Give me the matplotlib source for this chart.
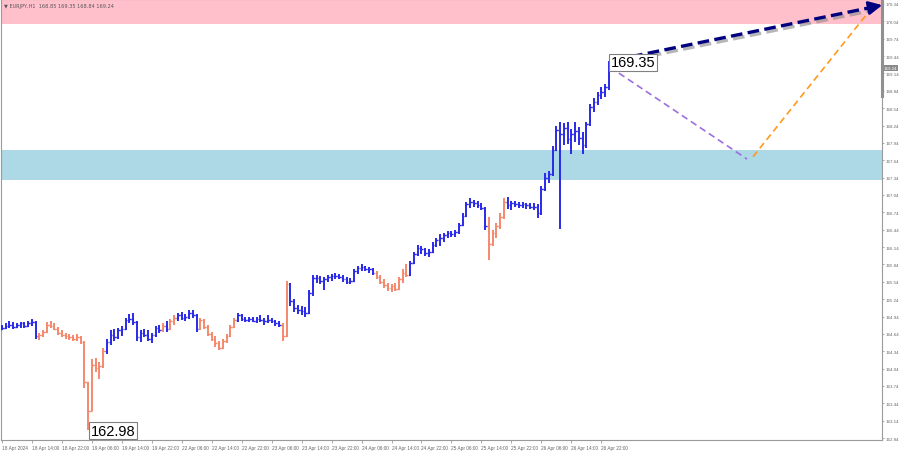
import numpy as np
import matplotlib.pyplot as plt
import matplotlib.patheffects as pe
from matplotlib.transforms import blended_transform_factory

# hourly bars, EURJPY
high = [164.80, 164.82, 164.86, 164.84, 164.83, 164.85, 164.84, 164.87, 164.90, 164.86,
        164.66, 164.70, 164.84, 164.86, 164.82, 164.76, 164.70, 164.66, 164.64, 164.62,
        164.64, 164.60, 164.52, 163.80, 164.20, 164.22, 164.15, 164.40, 164.55, 164.70,
        164.72, 164.74, 164.78, 164.92, 164.98, 165.00, 164.86, 164.70, 164.72, 164.70,
        164.66, 164.78, 164.80, 164.82, 164.86, 164.90, 164.96, 165.00, 165.02, 164.98,
        165.06, 165.06, 164.98, 164.92, 164.90, 164.80, 164.68, 164.60, 164.52, 164.56,
        164.64, 164.80, 164.92, 165.00, 164.98, 164.94, 164.94, 164.94, 164.94, 164.96,
        164.92, 164.96, 164.92, 164.88, 164.86, 164.82, 165.56, 165.52, 165.25, 165.14,
        165.12, 165.10, 165.40, 165.66, 165.66, 165.64, 165.62, 165.66, 165.68, 165.70,
        165.68, 165.66, 165.62, 165.60, 165.76, 165.82, 165.84, 165.82, 165.80, 165.78,
        165.72, 165.66, 165.58, 165.52, 165.50, 165.52, 165.62, 165.76, 165.84, 165.90,
        166.06, 166.18, 166.16, 166.12, 166.10, 166.22, 166.30, 166.36, 166.38, 166.42,
        166.42, 166.44, 166.56, 166.72, 166.92, 166.98, 166.96, 166.94, 166.90, 166.84,
        166.66, 166.44, 166.56, 166.72, 166.98, 167.00, 166.94, 166.94, 166.92, 166.92,
        166.90, 166.90, 166.90, 166.88, 167.20, 167.42, 167.46, 167.88, 168.24, 168.30,
        168.28, 168.30, 168.18, 168.30, 168.22, 168.12, 168.30, 168.62, 168.72, 168.82,
        168.90, 168.96, 169.35]
low = [164.70, 164.72, 164.74, 164.72, 164.74, 164.75, 164.74, 164.76, 164.78, 164.56,
       164.54, 164.58, 164.66, 164.74, 164.70, 164.62, 164.58, 164.56, 164.54, 164.52,
       164.52, 164.46, 163.70, 162.98, 163.30, 163.98, 163.86, 164.05, 164.30, 164.45,
       164.52, 164.55, 164.60, 164.70, 164.82, 164.80, 164.52, 164.50, 164.58, 164.52,
       164.48, 164.58, 164.66, 164.68, 164.68, 164.70, 164.80, 164.86, 164.88, 164.86,
       164.90, 164.92, 164.68, 164.70, 164.72, 164.60, 164.52, 164.42, 164.36, 164.38,
       164.48, 164.58, 164.74, 164.84, 164.86, 164.84, 164.84, 164.84, 164.82, 164.84,
       164.80, 164.82, 164.82, 164.78, 164.76, 164.52, 164.58, 165.12, 165.02, 164.98,
       164.96, 164.94, 164.98, 165.30, 165.52, 165.50, 165.40, 165.54, 165.56, 165.58,
       165.58, 165.54, 165.50, 165.50, 165.54, 165.68, 165.72, 165.72, 165.70, 165.66,
       165.58, 165.50, 165.44, 165.38, 165.36, 165.38, 165.40, 165.52, 165.62, 165.64,
       165.84, 165.98, 166.02, 165.98, 165.96, 166.04, 166.14, 166.16, 166.22, 166.30,
       166.32, 166.32, 166.36, 166.50, 166.66, 166.82, 166.84, 166.82, 166.78, 166.44,
       165.92, 166.16, 166.30, 166.46, 166.62, 166.80, 166.78, 166.84, 166.82, 166.82,
       166.80, 166.80, 166.78, 166.64, 166.70, 167.10, 167.24, 167.36, 167.80, 166.45,
       167.90, 167.92, 167.74, 167.96, 167.90, 167.74, 167.86, 168.24, 168.48, 168.60,
       168.70, 168.74, 168.86]
close = [164.74, 164.78, 164.80, 164.76, 164.80, 164.82, 164.78, 164.83, 164.84, 164.60,
         164.62, 164.68, 164.80, 164.78, 164.72, 164.66, 164.62, 164.60, 164.58, 164.56,
         164.58, 164.50, 163.80, 163.30, 164.10, 164.05, 164.08, 164.35, 164.50, 164.62,
         164.58, 164.70, 164.72, 164.88, 164.90, 164.84, 164.58, 164.66, 164.62, 164.56,
         164.62, 164.74, 164.70, 164.78, 164.72, 164.86, 164.92, 164.96, 164.92, 164.94,
         165.00, 164.96, 164.72, 164.88, 164.76, 164.64, 164.56, 164.48, 164.40, 164.52,
         164.60, 164.76, 164.88, 164.96, 164.90, 164.88, 164.90, 164.86, 164.90, 164.88,
         164.86, 164.88, 164.86, 164.82, 164.80, 164.60, 165.50, 165.20, 165.08, 165.06,
         165.04, 165.00, 165.35, 165.60, 165.60, 165.56, 165.58, 165.62, 165.64, 165.64,
         165.62, 165.58, 165.54, 165.56, 165.72, 165.78, 165.80, 165.76, 165.76, 165.70,
         165.62, 165.54, 165.48, 165.44, 165.46, 165.42, 165.58, 165.70, 165.66, 165.86,
         166.02, 166.12, 166.10, 166.04, 166.06, 166.18, 166.26, 166.30, 166.34, 166.38,
         166.36, 166.40, 166.52, 166.68, 166.88, 166.92, 166.90, 166.86, 166.82, 166.50,
         166.20, 166.38, 166.50, 166.66, 166.92, 166.86, 166.90, 166.88, 166.86, 166.88,
         166.86, 166.84, 166.84, 166.72, 167.14, 167.34, 167.40, 167.82, 168.16, 168.10,
         168.20, 168.00, 168.10, 168.14, 168.02, 167.90, 168.26, 168.56, 168.64, 168.76,
         168.82, 168.90, 169.24]
first_open = 164.72

# bar index ranges of the corrective (salmon) wave parts
down_waves = [(10, 27), (43, 43), (45, 46), (53, 62), (75, 76), (100, 108), (130, 134)]

# forecast: bar index / price
fc_down_x = [162.3, 198.9]
fc_down_y = [169.25, 167.66]
fc_up_x = [200.5, 230.7]
fc_up_y = [167.70, 170.15]
main_x = [163.5, 235.0]
main_y = [169.37, 170.32]

resist_zone = (170.0, 170.5)
support_zone = (167.30, 167.82)

time_labels = ['18 Apr 2024', '18 Apr 14:00', '18 Apr 22:00', '19 Apr 06:00', '19 Apr 14:00',
               '19 Apr 22:00', '22 Apr 06:00', '22 Apr 14:00', '22 Apr 22:00', '23 Apr 06:00',
               '23 Apr 14:00', '23 Apr 22:00', '24 Apr 06:00', '24 Apr 14:00', '24 Apr 22:00',
               '25 Apr 06:00', '25 Apr 14:00', '25 Apr 22:00', '26 Apr 06:00', '26 Apr 14:00',
               '26 Apr 22:00']
price_ticks = [162.84 + 0.30 * k for k in range(26)]

hi = np.array(high)
lo = np.array(low)
cl = np.array(close)
op = np.concatenate([[first_open], cl[:-1]])
hi = np.maximum(hi, np.maximum(op, cl))
lo = np.minimum(lo, np.minimum(op, cl))
idx = np.arange(len(cl))

blue = '#2a2ae8'
salmon = '#f5886c'
colors = np.array([blue] * len(cl), dtype=object)
for a, b in down_waves:
    colors[a:b + 1] = salmon

fig = plt.figure(figsize=(9, 4.52), dpi=100)
ax = fig.add_axes([0.001, 0.0243, 0.979, 0.9757])
ax.set_xlim(-0.27, 234.93)
ax.set_ylim(162.806, 170.426)

ax.axhspan(*resist_zone, color='#ffc0cb', lw=0, zorder=0)
ax.axhspan(*support_zone, color='#add8e6', lw=0, zorder=0)

ax.vlines(idx, lo, hi, colors=list(colors), lw=1.4, zorder=3)
ax.hlines(op, idx - 0.45, idx, colors=list(colors), lw=1.0, zorder=3)
ax.hlines(cl, idx, idx + 0.45, colors=list(colors), lw=1.0, zorder=3)

ax.plot(fc_down_x, fc_down_y, color='#9b6fe0', lw=1.2, ls=(0, (4, 2.5)), zorder=4)
ax.plot(fc_up_x, fc_up_y, color='#ff9a1a', lw=1.2, ls=(0, (4, 2.5)), zorder=4)

shadow = [pe.SimpleLineShadow(offset=(1.5, -2), shadow_color='#888888', alpha=0.6), pe.Normal()]
ax.plot([main_x[0], main_x[1] - 3.2], [main_y[0], main_y[1] - 0.043], color='#00007f', lw=2.4,
        ls=(0, (3.5, 1.6)), zorder=5, path_effects=shadow)
ax.annotate('', xy=(main_x[1], main_y[1]), xytext=(main_x[1] - 3.6, main_y[1] - 0.048),
            arrowprops=dict(arrowstyle='-|>,head_length=0.8,head_width=0.4', color='#00007f',
                            lw=2, shrinkA=0, shrinkB=0), zorder=6)

box = dict(boxstyle='square,pad=0.12', fc='white', ec='#808080', lw=0.8)
ax.text(162.6, 169.33, '169.35', fontsize=10.5, family='Liberation Sans', va='center',
        ha='left', bbox=box, zorder=7)
ax.text(23.7, 162.97, '162.98', fontsize=10.5, family='Liberation Sans', va='center',
        ha='left', bbox=box, zorder=7)

ax.text(0.004, 0.992, '\u25bc EURJPY,H1  168.85 169.35 168.84 169.24', transform=ax.transAxes,
        fontsize=3.6, color='#555555', va='top', ha='left')

for s in ax.spines.values():
    s.set_color('#9a9a9a')
    s.set_linewidth(0.8)

ax.yaxis.tick_right()
ax.set_yticks(price_ticks)
ax.set_yticklabels([f'{p:.2f}' for p in price_ticks], family='Liberation Sans')
ax.tick_params(axis='y', labelsize=3.2, labelcolor='#666666', length=1.5, width=0.5,
               color='#888888', pad=1)
ax.set_xticks(np.arange(len(time_labels)) * 8)
ax.set_xticklabels(time_labels, family='Liberation Sans')
for lbl in ax.get_xticklabels():
    lbl.set_ha('left')
ax.tick_params(axis='x', labelsize=3.4, labelcolor='#666666', length=2, width=0.5,
               color='#888888', pad=1.5)

trans = blended_transform_factory(ax.transAxes, ax.transData)
ax.text(1.002, cl[-1], f'{cl[-1]:.2f}', transform=trans, fontsize=3.2, family='Liberation Sans',
        color='white', va='center', ha='left',
        bbox=dict(boxstyle='square,pad=0.2', fc='#8a8a8a', ec='none'))
ax.plot([1.0, 1.0], [168.75, 170.426], transform=trans, color='#909090', lw=2.2,
        clip_on=False, zorder=8)

fig.savefig('out.png', dpi=100)
